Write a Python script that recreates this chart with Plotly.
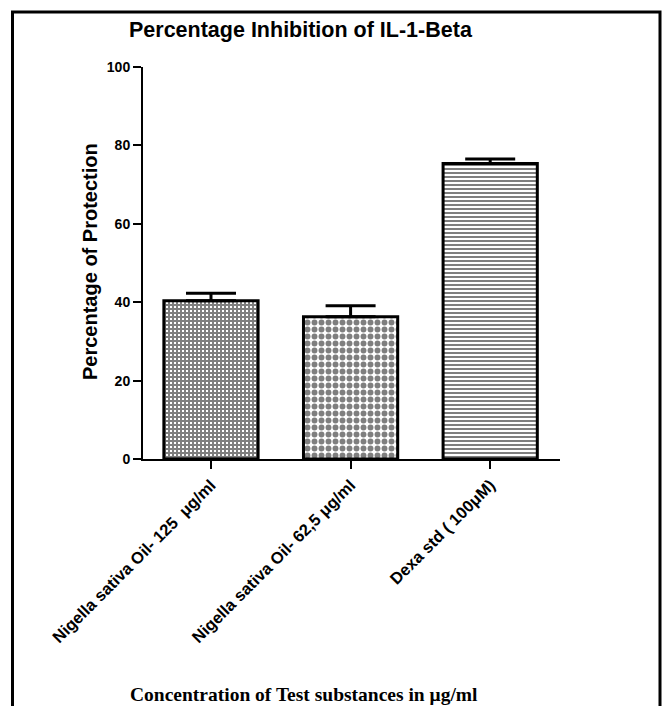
import plotly.graph_objects as go

categories = ["Nigella sativa Oil- 125  μg/ml", "Nigella sativa Oil- 62,5 μg/ml", "Dexa std ( 100μM)"]
values = [40.4, 36.3, 75.4]
errors = [1.9, 2.8, 1.1]
patterns = ["+", ".", "-"]
y_ticks = [0, 20, 40, 60, 80, 100]

L, R, T, B = 143, 560, 67, 459
W, H = 664, 706

fig = go.Figure()
fig.add_trace(go.Bar(
    x=list(range(len(categories))),
    y=values,
    width=0.675,
    marker=dict(
        color="white",
        line=dict(color="black", width=3),
        pattern=dict(shape=patterns, fgcolor="black", bgcolor="white",
                     size=[4, 7, 4], solidity=[0.75, 0.55, 0.5]),
    ),
    error_y=dict(type="data", array=errors, arrayminus=[0, 0, 0], symmetric=False,
                 color="black", thickness=3, width=25),
    showlegend=False,
))

fig.update_layout(
    width=W, height=H,
    margin=dict(l=L, r=W - R, t=T, b=H - B, autoexpand=False),
    plot_bgcolor="white", paper_bgcolor="white",
    font=dict(family="Liberation Sans, Arial", color="black"),
)
fig.update_xaxes(
    range=[-0.487, 2.5],
    tickmode="array", tickvals=list(range(len(categories))), ticktext=categories,
    tickangle=-45, tickfont=dict(size=16.5, weight="bold"),
    showline=True, linecolor="black", linewidth=2,
    ticks="outside", ticklen=8, tickwidth=2, tickcolor="black",
    showgrid=False, zeroline=False, automargin=False,
)
fig.update_yaxes(
    range=[0, 100], tickvals=y_ticks,
    tickfont=dict(size=14, weight="bold"),
    showline=True, linecolor="black", linewidth=2,
    ticks="outside", ticklen=8, tickwidth=2, tickcolor="black",
    showgrid=False, zeroline=False, automargin=False,
)

def px2paper_x(px):
    return (px - L) / (R - L)

def px2paper_y(py):
    return (B - py) / (B - T)

fig.add_annotation(text="Percentage Inhibition of IL-1-Beta", x=px2paper_x(301), y=px2paper_y(30),
                   xref="paper", yref="paper", showarrow=False, xanchor="center", yanchor="middle",
                   font=dict(size=21.5, weight="bold"))
fig.add_annotation(text="Percentage of Protection", x=px2paper_x(90), y=px2paper_y(262),
                   xref="paper", yref="paper", showarrow=False, xanchor="center", yanchor="middle",
                   textangle=-90, font=dict(size=20, weight="bold"))
fig.add_annotation(text="Concentration of Test substances in μg/ml", x=px2paper_x(304), y=px2paper_y(694),
                   xref="paper", yref="paper", showarrow=False, xanchor="center", yanchor="middle",
                   font=dict(size=19.5, weight="bold", family="Liberation Serif, Times New Roman"))

fig.add_shape(type="rect", xref="paper", yref="paper",
              x0=px2paper_x(12.5), x1=px2paper_x(660), y0=px2paper_y(740), y1=px2paper_y(12),
              line=dict(color="black", width=3), fillcolor="rgba(0,0,0,0)")

fig.write_html("out.html", config={"displayModeBar": False},
               post_script="document.body.style.margin='0';document.body.style.overflow='hidden';")
